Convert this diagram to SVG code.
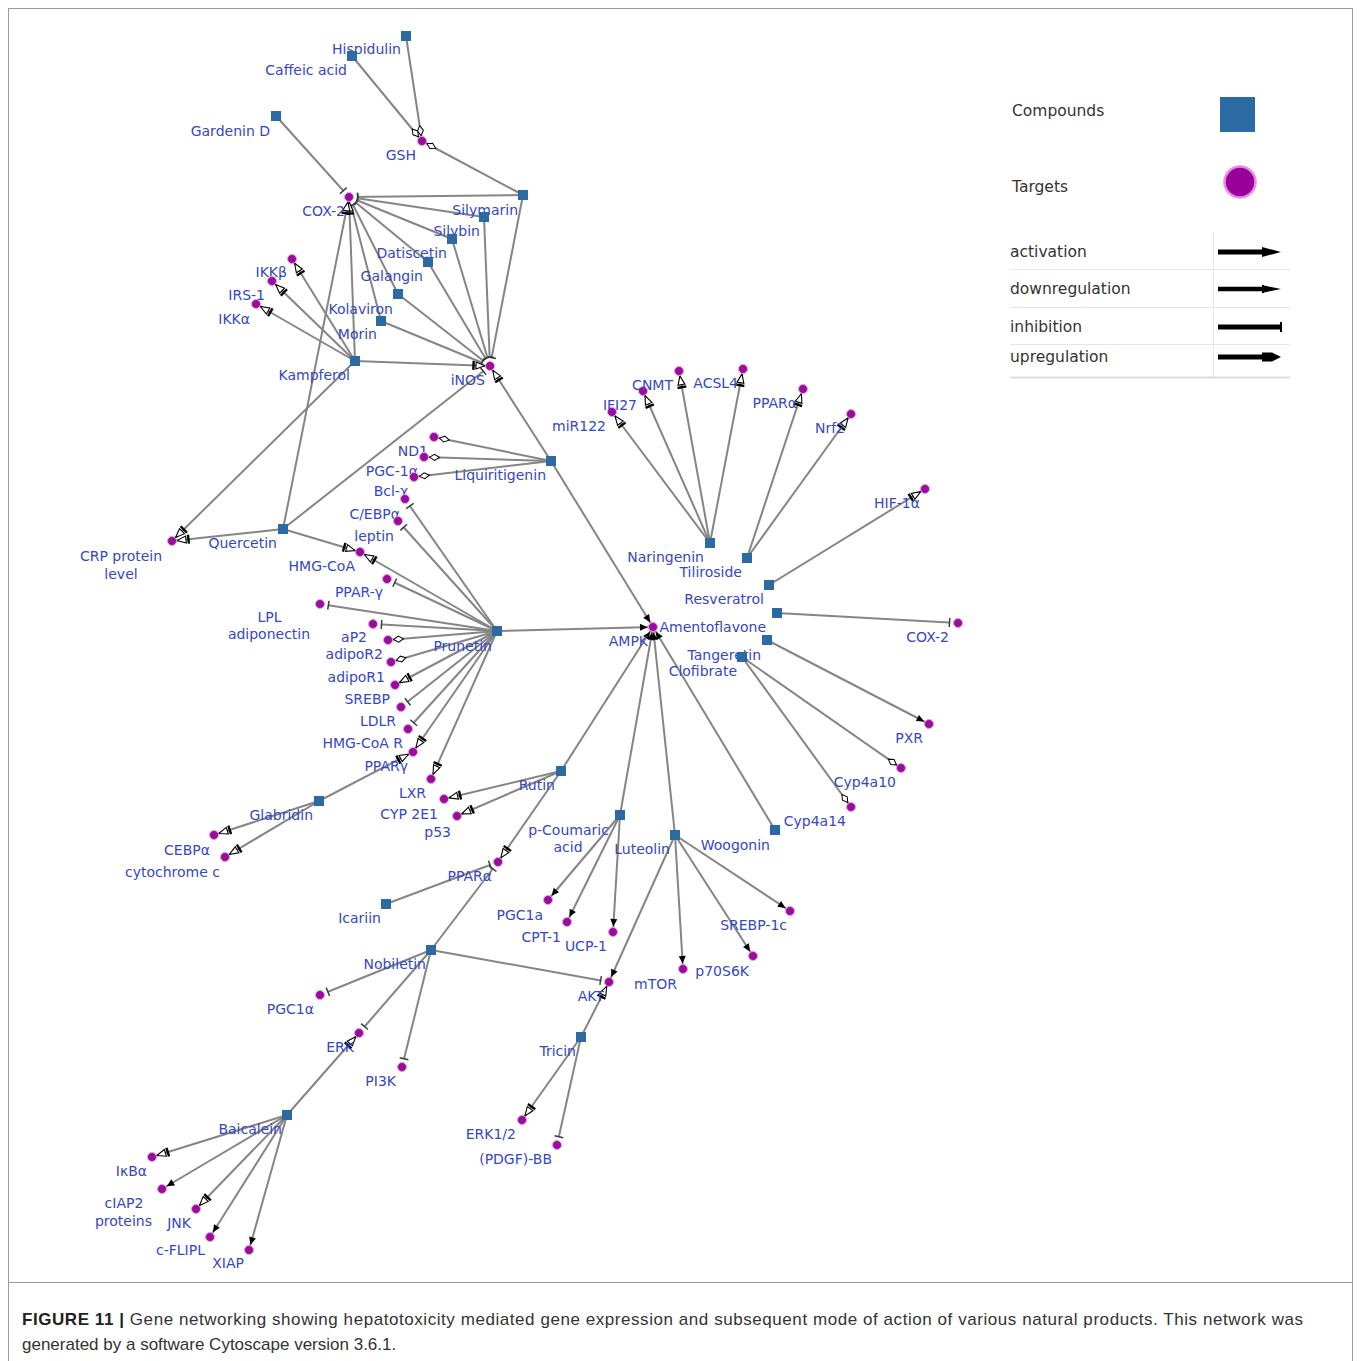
<svg xmlns="http://www.w3.org/2000/svg" width="1360" height="1361" viewBox="0 0 1360 1361">
<style>
.e{stroke:#858585;stroke-width:2;fill:none}
.act{marker-end:url(#mAct)}
.dn{marker-end:url(#mDown)}
.inh{marker-end:url(#mInh)}
.up{marker-end:url(#mUp)}
.c{fill:#2b6aa3}
.t{fill:#9b0c9d;stroke:#e3a0e6;stroke-width:1}
.l{font-family:"DejaVu Sans",sans-serif;font-size:14px;fill:#3447c6;text-anchor:end}
.m{text-anchor:middle}
.lg{font-family:"DejaVu Sans",sans-serif;font-size:15.5px;fill:#333}
.cap{font-family:"Liberation Sans",Arial,sans-serif;font-size:17px;fill:#333}
</style>
<defs>
<marker id="mAct" markerUnits="userSpaceOnUse" orient="auto" refX="0" refY="0" markerWidth="1" markerHeight="1" style="overflow:visible">
<path d="M-5.5 0 L-13 -3.5 L-13 3.5 Z" fill="#000"/>
</marker>
<marker id="mDown" markerUnits="userSpaceOnUse" orient="auto" refX="0" refY="0" markerWidth="1" markerHeight="1" style="overflow:visible">
<path d="M-5 0 L-14 -3.5 L-14 3.5 Z" fill="#fff" stroke="#000" stroke-width="1.1"/>
<line x1="-16.5" y1="-4.5" x2="-16.5" y2="4.5" stroke="#000" stroke-width="2.4"/>
</marker>
<marker id="mInh" markerUnits="userSpaceOnUse" orient="auto" refX="0" refY="0" markerWidth="1" markerHeight="1" style="overflow:visible">
<line x1="-8" y1="0" x2="-3.5" y2="0" stroke="#fff" stroke-width="3.5"/>
<line x1="-8.5" y1="-4.5" x2="-8.5" y2="4.5" stroke="#3a3f3a" stroke-width="1.5"/>
</marker>
<marker id="mUp" markerUnits="userSpaceOnUse" orient="auto" refX="0" refY="0" markerWidth="1" markerHeight="1" style="overflow:visible">
<path d="M-5.5 0 L-10.5 -3 L-15.5 0 L-10.5 3 Z" fill="#fff" stroke="#000" stroke-width="1"/>
</marker>
</defs>
<rect x="0" y="0" width="1360" height="1361" fill="#fff"/>
<rect x="8.5" y="8.5" width="1344" height="1360" fill="none" stroke="#9a9a9a" stroke-width="1"/>
<line x1="8.5" y1="1282.5" x2="1352.5" y2="1282.5" stroke="#9a9a9a" stroke-width="1"/>

<g id="edges">
<line class="e up" x1="406" y1="36" x2="422" y2="141"/>
<line class="e up" x1="352" y1="56" x2="422" y2="141"/>
<line class="e up" x1="523" y1="195" x2="422" y2="141"/>
<line class="e inh" x1="276" y1="116" x2="349" y2="197"/>
<line class="e inh" x1="523" y1="195" x2="349" y2="197"/>
<line class="e inh" x1="484" y1="217" x2="349" y2="197"/>
<line class="e inh" x1="452" y1="239" x2="349" y2="197"/>
<line class="e inh" x1="428" y1="262" x2="349" y2="197"/>
<line class="e inh" x1="398" y1="294" x2="349" y2="197"/>
<line class="e inh" x1="381" y1="321" x2="349" y2="197"/>
<line class="e dn" x1="355" y1="361" x2="349" y2="197"/>
<line class="e dn" x1="283" y1="529" x2="349" y2="197"/>
<line class="e inh" x1="523" y1="195" x2="490" y2="366"/>
<line class="e inh" x1="484" y1="217" x2="490" y2="366"/>
<line class="e inh" x1="452" y1="239" x2="490" y2="366"/>
<line class="e inh" x1="428" y1="262" x2="490" y2="366"/>
<line class="e inh" x1="398" y1="294" x2="490" y2="366"/>
<line class="e inh" x1="381" y1="321" x2="490" y2="366"/>
<line class="e dn" x1="355" y1="361" x2="490" y2="366"/>
<line class="e inh" x1="283" y1="529" x2="490" y2="366"/>
<line class="e dn" x1="551" y1="461" x2="490" y2="366"/>
<line class="e dn" x1="355" y1="361" x2="292" y2="259"/>
<line class="e dn" x1="355" y1="361" x2="272" y2="281"/>
<line class="e dn" x1="355" y1="361" x2="256" y2="304"/>
<line class="e dn" x1="355" y1="361" x2="172" y2="541"/>
<line class="e dn" x1="283" y1="529" x2="172" y2="541"/>
<line class="e dn" x1="283" y1="529" x2="360" y2="552"/>
<line class="e up" x1="551" y1="461" x2="434" y2="437"/>
<line class="e up" x1="551" y1="461" x2="424" y2="457"/>
<line class="e up" x1="551" y1="461" x2="414" y2="477"/>
<line class="e act" x1="551" y1="461" x2="653" y2="627"/>
<line class="e inh" x1="497" y1="631" x2="405" y2="499"/>
<line class="e inh" x1="497" y1="631" x2="398" y2="521"/>
<line class="e dn" x1="497" y1="631" x2="360" y2="552"/>
<line class="e inh" x1="497" y1="631" x2="387" y2="579"/>
<line class="e inh" x1="497" y1="631" x2="320" y2="604"/>
<line class="e inh" x1="497" y1="631" x2="373" y2="624"/>
<line class="e up" x1="497" y1="631" x2="388" y2="640"/>
<line class="e up" x1="497" y1="631" x2="391" y2="662"/>
<line class="e dn" x1="497" y1="631" x2="395" y2="685"/>
<line class="e inh" x1="497" y1="631" x2="401" y2="707"/>
<line class="e inh" x1="497" y1="631" x2="408" y2="729"/>
<line class="e dn" x1="497" y1="631" x2="413" y2="752"/>
<line class="e dn" x1="497" y1="631" x2="431" y2="779"/>
<line class="e act" x1="497" y1="631" x2="653" y2="627"/>
<line class="e dn" x1="319" y1="801" x2="413" y2="752"/>
<line class="e dn" x1="319" y1="801" x2="214" y2="835"/>
<line class="e dn" x1="319" y1="801" x2="225" y2="857"/>
<line class="e dn" x1="561" y1="771" x2="444" y2="799"/>
<line class="e dn" x1="561" y1="771" x2="457" y2="816"/>
<line class="e act" x1="561" y1="771" x2="653" y2="627"/>
<line class="e dn" x1="561" y1="771" x2="498" y2="862"/>
<line class="e inh" x1="386" y1="904" x2="498" y2="862"/>
<line class="e inh" x1="431" y1="950" x2="498" y2="862"/>
<line class="e inh" x1="431" y1="950" x2="320" y2="995"/>
<line class="e inh" x1="431" y1="950" x2="359" y2="1033"/>
<line class="e inh" x1="431" y1="950" x2="402" y2="1067"/>
<line class="e inh" x1="431" y1="950" x2="609" y2="982"/>
<line class="e dn" x1="287" y1="1115" x2="359" y2="1033"/>
<line class="e dn" x1="287" y1="1115" x2="152" y2="1157"/>
<line class="e act" x1="287" y1="1115" x2="162" y2="1189"/>
<line class="e dn" x1="287" y1="1115" x2="196" y2="1209"/>
<line class="e act" x1="287" y1="1115" x2="210" y2="1237"/>
<line class="e act" x1="287" y1="1115" x2="249" y2="1250"/>
<line class="e dn" x1="581" y1="1037" x2="609" y2="982"/>
<line class="e dn" x1="581" y1="1037" x2="522" y2="1120"/>
<line class="e inh" x1="581" y1="1037" x2="557" y2="1145"/>
<line class="e act" x1="675" y1="835" x2="609" y2="982"/>
<line class="e act" x1="675" y1="835" x2="683" y2="969"/>
<line class="e act" x1="675" y1="835" x2="753" y2="956"/>
<line class="e act" x1="675" y1="835" x2="790" y2="911"/>
<line class="e act" x1="675" y1="835" x2="653" y2="627"/>
<line class="e act" x1="620" y1="815" x2="548" y2="900"/>
<line class="e act" x1="620" y1="815" x2="567" y2="922"/>
<line class="e act" x1="620" y1="815" x2="613" y2="932"/>
<line class="e act" x1="620" y1="815" x2="653" y2="627"/>
<line class="e act" x1="775" y1="830" x2="653" y2="627"/>
<line class="e dn" x1="710" y1="543" x2="612" y2="412"/>
<line class="e dn" x1="710" y1="543" x2="643" y2="391"/>
<line class="e dn" x1="710" y1="543" x2="679" y2="371"/>
<line class="e dn" x1="710" y1="543" x2="743" y2="369"/>
<line class="e dn" x1="747" y1="558" x2="803" y2="389"/>
<line class="e dn" x1="747" y1="558" x2="851" y2="414"/>
<line class="e dn" x1="769" y1="585" x2="925" y2="489"/>
<line class="e inh" x1="777" y1="613" x2="958" y2="623"/>
<line class="e act" x1="767" y1="640" x2="929" y2="724"/>
<line class="e up" x1="742" y1="657" x2="901" y2="768"/>
<line class="e up" x1="742" y1="657" x2="851" y2="807"/>
</g>

<g id="compounds">
<g id="n-hispidulin"><rect class="c" x="401" y="31" width="10" height="10"/><text class="l" x="401" y="54">Hispidulin</text></g>
<g id="n-caffeic-acid"><rect class="c" x="347" y="51" width="10" height="10"/><text class="l" x="347" y="75">Caffeic acid</text></g>
<g id="n-gardenin-d"><rect class="c" x="271" y="111" width="10" height="10"/><text class="l" x="270" y="136">Gardenin D</text></g>
<g id="n-silymarin"><rect class="c" x="518" y="190" width="10" height="10"/><text class="l" x="518" y="215">Silymarin</text></g>
<g id="n-silybin"><rect class="c" x="479" y="212" width="10" height="10"/><text class="l" x="480" y="236">Silybin</text></g>
<g id="n-datiscetin"><rect class="c" x="447" y="234" width="10" height="10"/><text class="l" x="447" y="258">Datiscetin</text></g>
<g id="n-galangin"><rect class="c" x="423" y="257" width="10" height="10"/><text class="l" x="423" y="281">Galangin</text></g>
<g id="n-kolaviron"><rect class="c" x="393" y="289" width="10" height="10"/><text class="l" x="393" y="314">Kolaviron</text></g>
<g id="n-morin"><rect class="c" x="376" y="316" width="10" height="10"/><text class="l" x="377" y="339">Morin</text></g>
<g id="n-kampferol"><rect class="c" x="350" y="356" width="10" height="10"/><text class="l" x="350" y="380">Kampferol</text></g>
<g id="n-liquiritigenin"><rect class="c" x="546" y="456" width="10" height="10"/><text class="l" x="546" y="480">Liquiritigenin</text></g>
<g id="n-quercetin"><rect class="c" x="278" y="524" width="10" height="10"/><text class="l" x="277" y="548">Quercetin</text></g>
<g id="n-prunetin"><rect class="c" x="492" y="626" width="10" height="10"/><text class="l" x="492" y="651">Prunetin</text></g>
<g id="n-naringenin"><rect class="c" x="705" y="538" width="10" height="10"/><text class="l" x="704" y="562">Naringenin</text></g>
<g id="n-tiliroside"><rect class="c" x="742" y="553" width="10" height="10"/><text class="l" x="742" y="577">Tiliroside</text></g>
<g id="n-resveratrol"><rect class="c" x="764" y="580" width="10" height="10"/><text class="l" x="764" y="604">Resveratrol</text></g>
<g id="n-amentoflavone"><rect class="c" x="772" y="608" width="10" height="10"/><text class="l" x="766" y="632">Amentoflavone</text></g>
<g id="n-tangeretin"><rect class="c" x="762" y="635" width="10" height="10"/><text class="l" x="761" y="660">Tangeretin</text></g>
<g id="n-clofibrate"><rect class="c" x="737" y="652" width="10" height="10"/><text class="l" x="737" y="676">Clofibrate</text></g>
<g id="n-rutin"><rect class="c" x="556" y="766" width="10" height="10"/><text class="l" x="555" y="790">Rutin</text></g>
<g id="n-glabridin"><rect class="c" x="314" y="796" width="10" height="10"/><text class="l" x="313" y="820">Glabridin</text></g>
<g id="n-p-coumaric-acid"><rect class="c" x="615" y="810" width="10" height="10"/><text class="l m" x="568.5" y="835">p-Coumaric</text><text class="l m" x="568" y="852">acid</text></g>
<g id="n-luteolin"><rect class="c" x="670" y="830" width="10" height="10"/><text class="l" x="670" y="854">Luteolin</text></g>
<g id="n-woogonin"><rect class="c" x="770" y="825" width="10" height="10"/><text class="l" x="770" y="850">Woogonin</text></g>
<g id="n-icariin"><rect class="c" x="381" y="899" width="10" height="10"/><text class="l" x="381" y="923">Icariin</text></g>
<g id="n-nobiletin"><rect class="c" x="426" y="945" width="10" height="10"/><text class="l" x="426" y="969">Nobiletin</text></g>
<g id="n-tricin"><rect class="c" x="576" y="1032" width="10" height="10"/><text class="l" x="576" y="1056">Tricin</text></g>
<g id="n-baicalein"><rect class="c" x="282" y="1110" width="10" height="10"/><text class="l" x="282" y="1134">Baicalein</text></g>
</g>

<g id="targets">
<g id="t-gsh"><circle class="t" cx="422" cy="141" r="4.5"/><text class="l" x="416" y="160">GSH</text></g>
<g id="t-cox2"><circle class="t" cx="349" cy="197" r="4.5"/><text class="l" x="345" y="216">COX-2</text></g>
<g id="t-ikkb"><circle class="t" cx="292" cy="259" r="4.5"/><text class="l" x="287" y="277">IKKβ</text></g>
<g id="t-irs1"><circle class="t" cx="272" cy="281" r="4.5"/><text class="l" x="265" y="300">IRS-1</text></g>
<g id="t-ikka"><circle class="t" cx="256" cy="304" r="4.5"/><text class="l" x="250" y="324">IKKα</text></g>
<g id="t-inos"><circle class="t" cx="490" cy="366" r="4.5"/><text class="l" x="485" y="385">iNOS</text></g>
<g id="t-crp"><circle class="t" cx="172" cy="541" r="4.5"/><text class="l m" x="121" y="561">CRP protein</text><text class="l m" x="121" y="579">level</text></g>
<g id="t-nd1"><circle class="t" cx="434" cy="437" r="4.5"/><text class="l" x="428" y="456">ND1</text></g>
<g id="t-pgc1a-l"><circle class="t" cx="424" cy="457" r="4.5"/><text class="l" x="418" y="476">PGC-1α</text></g>
<g id="t-bclx"><circle class="t" cx="414" cy="477" r="4.5"/><text class="l" x="408" y="496">Bcl-χ</text></g>
<g id="t-cebpa"><circle class="t" cx="405" cy="499" r="4.5"/><text class="l" x="400" y="519">C/EBPα</text></g>
<g id="t-leptin"><circle class="t" cx="398" cy="521" r="4.5"/><text class="l" x="394" y="541">leptin</text></g>
<g id="t-hmgcoa"><circle class="t" cx="360" cy="552" r="4.5"/><text class="l" x="355" y="571">HMG-CoA</text></g>
<g id="t-ppar-g1"><circle class="t" cx="387" cy="579" r="4.5"/><text class="l" x="383" y="597">PPAR-γ</text></g>
<g id="t-lpl"><circle class="t" cx="320" cy="604" r="4.5"/><text class="l m" x="269.5" y="622">LPL</text><text class="l m" x="269" y="639">adiponectin</text></g>
<g id="t-ap2"><circle class="t" cx="373" cy="624" r="4.5"/><text class="l" x="367" y="642">aP2</text></g>
<g id="t-adipor2"><circle class="t" cx="388" cy="640" r="4.5"/><text class="l" x="383" y="659">adipoR2</text></g>
<g id="t-adipor1"><circle class="t" cx="391" cy="662" r="4.5"/><text class="l" x="385" y="682">adipoR1</text></g>
<g id="t-srebp"><circle class="t" cx="395" cy="685" r="4.5"/><text class="l" x="390" y="704">SREBP</text></g>
<g id="t-ldlr"><circle class="t" cx="401" cy="707" r="4.5"/><text class="l" x="396" y="726">LDLR</text></g>
<g id="t-hmgcoar"><circle class="t" cx="408" cy="729" r="4.5"/><text class="l" x="403" y="748">HMG-CoA R</text></g>
<g id="t-pparg"><circle class="t" cx="413" cy="752" r="4.5"/><text class="l" x="408" y="771">PPARγ</text></g>
<g id="t-lxr"><circle class="t" cx="431" cy="779" r="4.5"/><text class="l" x="426" y="798">LXR</text></g>
<g id="t-cyp2e1"><circle class="t" cx="444" cy="799" r="4.5"/><text class="l" x="438" y="819">CYP 2E1</text></g>
<g id="t-p53"><circle class="t" cx="457" cy="816" r="4.5"/><text class="l" x="451" y="837">p53</text></g>
<g id="t-mir122"><circle class="t" cx="612" cy="412" r="4.5"/><text class="l" x="606" y="431">miR122</text></g>
<g id="t-ifi27"><circle class="t" cx="643" cy="391" r="4.5"/><text class="l" x="637" y="410">IFI27</text></g>
<g id="t-cnmt"><circle class="t" cx="679" cy="371" r="4.5"/><text class="l" x="673" y="390">CNMT</text></g>
<g id="t-acsl4"><circle class="t" cx="743" cy="369" r="4.5"/><text class="l" x="738" y="388">ACSL4</text></g>
<g id="t-ppara-top"><circle class="t" cx="803" cy="389" r="4.5"/><text class="l" x="797" y="408">PPARα</text></g>
<g id="t-nrf2"><circle class="t" cx="851" cy="414" r="4.5"/><text class="l" x="845" y="433">Nrf2</text></g>
<g id="t-hif1a"><circle class="t" cx="925" cy="489" r="4.5"/><text class="l" x="920" y="508">HIF-1α</text></g>
<g id="t-ampk"><circle class="t" cx="653" cy="627" r="4.5"/><text class="l" x="648" y="646">AMPK</text></g>
<g id="t-cox2-r"><circle class="t" cx="958" cy="623" r="4.5"/><text class="l" x="949" y="642">COX-2</text></g>
<g id="t-pxr"><circle class="t" cx="929" cy="724" r="4.5"/><text class="l" x="923" y="743">PXR</text></g>
<g id="t-cyp4a10"><circle class="t" cx="901" cy="768" r="4.5"/><text class="l" x="896" y="787">Cyp4a10</text></g>
<g id="t-cyp4a14"><circle class="t" cx="851" cy="807" r="4.5"/><text class="l" x="846" y="826">Cyp4a14</text></g>
<g id="t-cebpa2"><circle class="t" cx="214" cy="835" r="4.5"/><text class="l" x="210" y="855">CEBPα</text></g>
<g id="t-cytc"><circle class="t" cx="225" cy="857" r="4.5"/><text class="l" x="220" y="877">cytochrome c</text></g>
<g id="t-ppara"><circle class="t" cx="498" cy="862" r="4.5"/><text class="l" x="492" y="881">PPARα</text></g>
<g id="t-pgc1a"><circle class="t" cx="548" cy="900" r="4.5"/><text class="l" x="543" y="920">PGC1a</text></g>
<g id="t-cpt1"><circle class="t" cx="567" cy="922" r="4.5"/><text class="l" x="561" y="942">CPT-1</text></g>
<g id="t-ucp1"><circle class="t" cx="613" cy="932" r="4.5"/><text class="l" x="607" y="951">UCP-1</text></g>
<g id="t-srebp1c"><circle class="t" cx="790" cy="911" r="4.5"/><text class="l" x="787" y="930">SREBP-1c</text></g>
<g id="t-p70s6k"><circle class="t" cx="753" cy="956" r="4.5"/><text class="l" x="749" y="976">p70S6K</text></g>
<g id="t-mtor"><circle class="t" cx="683" cy="969" r="4.5"/><text class="l" x="677" y="989">mTOR</text></g>
<g id="t-akt"><circle class="t" cx="609" cy="982" r="4.5"/><text class="l" x="604" y="1001">AKT</text></g>
<g id="t-pgc1alpha"><circle class="t" cx="320" cy="995" r="4.5"/><text class="l" x="314" y="1014">PGC1α</text></g>
<g id="t-erk"><circle class="t" cx="359" cy="1033" r="4.5"/><text class="l" x="354" y="1052">ERK</text></g>
<g id="t-pi3k"><circle class="t" cx="402" cy="1067" r="4.5"/><text class="l" x="396" y="1086">PI3K</text></g>
<g id="t-erk12"><circle class="t" cx="522" cy="1120" r="4.5"/><text class="l" x="516" y="1139">ERK1/2</text></g>
<g id="t-pdgf"><circle class="t" cx="557" cy="1145" r="4.5"/><text class="l" x="552" y="1164">(PDGF)-BB</text></g>
<g id="t-ikba"><circle class="t" cx="152" cy="1157" r="4.5"/><text class="l" x="147" y="1176">IκBα</text></g>
<g id="t-ciap2"><circle class="t" cx="162" cy="1189" r="4.5"/><text class="l m" x="124" y="1208">cIAP2</text><text class="l m" x="123.5" y="1226">proteins</text></g>
<g id="t-jnk"><circle class="t" cx="196" cy="1209" r="4.5"/><text class="l" x="191" y="1228">JNK</text></g>
<g id="t-cflipl"><circle class="t" cx="210" cy="1237" r="4.5"/><text class="l" x="205" y="1255">c-FLIPL</text></g>
<g id="t-xiap"><circle class="t" cx="249" cy="1250" r="4.5"/><text class="l" x="244" y="1268">XIAP</text></g>
</g>

<g id="legend">
<text class="lg" x="1012" y="116">Compounds</text>
<rect x="1220" y="97" width="35" height="35" fill="#2b6aa3"/>
<text class="lg" x="1012" y="192">Targets</text>
<circle cx="1240" cy="182" r="15.5" fill="#990099" stroke="#e98aec" stroke-width="2.5"/>
<g stroke="#e6e6e6" stroke-width="1">
<line x1="1213.5" y1="232" x2="1213.5" y2="378"/>
<line x1="1010" y1="269.5" x2="1290" y2="269.5"/>
<line x1="1010" y1="307.5" x2="1290" y2="307.5"/>
<line x1="1010" y1="344.5" x2="1290" y2="344.5"/>
</g>
<line x1="1010" y1="377.5" x2="1290" y2="377.5" stroke="#dcdcdc" stroke-width="2"/>
<text class="lg" x="1010" y="257">activation</text>
<text class="lg" x="1010" y="294">downregulation</text>
<text class="lg" x="1010" y="332">inhibition</text>
<text class="lg" x="1010" y="362">upregulation</text>
<line x1="1218" y1="252" x2="1264" y2="252" stroke="#000" stroke-width="5"/>
<path d="M1262 247 L1281 252 L1262 257 Z" fill="#000"/>
<line x1="1218" y1="289" x2="1266" y2="289" stroke="#000" stroke-width="4.5"/>
<line x1="1263" y1="285" x2="1263" y2="293" stroke="#000" stroke-width="2"/>
<path d="M1264 285.5 L1281 289 L1264 292.5 Z" fill="#000"/>
<line x1="1218" y1="327" x2="1281" y2="327" stroke="#000" stroke-width="5"/>
<line x1="1281" y1="322" x2="1281" y2="332" stroke="#000" stroke-width="2"/>
<line x1="1218" y1="357" x2="1266" y2="357" stroke="#000" stroke-width="5"/>
<path d="M1262 352.5 L1272 352.5 L1281 357 L1272 361.5 L1262 361.5 Z" fill="#000"/>
</g>

<g id="caption">
<text class="cap" x="22" y="1325" textLength="1281" lengthAdjust="spacing"><tspan font-weight="bold" fill="#222">FIGURE 11 |</tspan> Gene networking showing hepatotoxicity mediated gene expression and subsequent mode of action of various natural products. This network was</text>
<text class="cap" x="22" y="1350">generated by a software Cytoscape version 3.6.1.</text>
</g>
</svg>
